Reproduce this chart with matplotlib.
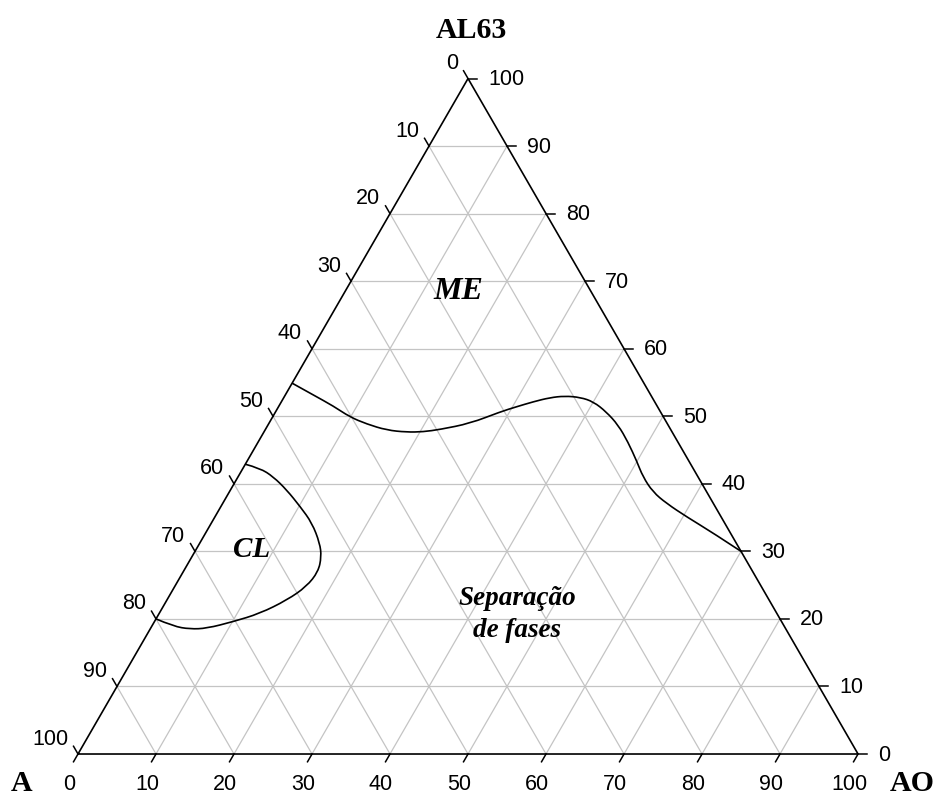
import numpy as np
import matplotlib
matplotlib.use("Agg")
import matplotlib.pyplot as plt
from matplotlib.path import Path
from matplotlib.patches import PathPatch

# ternary axes: AO (bottom), AL63 (right), A (left) -- all in %
ticks = list(range(0, 101, 10))

# boundary ME / separacao (AO, AL63)
me_ao = [0, 3.6, 7.0, 9.9, 12.6, 15.6, 18.3, 20.4, 22.4, 25.8, 28.8, 30.5, 32.3,
         34.1, 35.9, 38.0, 40.0, 42.4, 44.9, 47.4, 50.0, 51.9, 54.3, 56.9, 60.5,
         65.1, 70.0]
me_al = [54.9, 53.15, 51.5, 49.9, 48.85, 47.95, 47.65, 47.7, 48.05, 48.95, 50.65,
         51.4, 52.15, 52.75, 53.0, 52.8, 52.15, 50.65, 48.7, 46.2, 43.3, 41.05,
         38.8, 37.1, 35.1, 32.7, 30.0]

# boundary CL (AO, AL63)
cl_ao = [0, 2.2, 4.5, 7.2, 10.2, 12.9, 15.4, 16.6, 17.3, 16.9, 15.4, 12.9, 10.1,
         7.2, 5.1, 2.8, 0]
cl_al = [42.9, 42.3, 41.05, 39.1, 36.6, 34.2, 31.2, 29.2, 27.0, 24.8, 22.8, 20.8,
         19.6, 18.6, 18.5, 18.9, 20.0]

H = np.sqrt(3) / 2


def tern(ao, al):
    ao = np.asarray(ao, dtype=float)
    al = np.asarray(al, dtype=float)
    return ao + al / 2, al * H


def smooth_curve(ax, ao, al):
    # quadratic bezier path with the read points as control points
    x, y = tern(ao, al)
    pts = list(zip(x, y))
    verts = [pts[0]]
    codes = [Path.MOVETO]
    n = len(pts)
    for i in range(1, n - 1):
        if i < n - 2:
            end = ((pts[i][0] + pts[i + 1][0]) / 2, (pts[i][1] + pts[i + 1][1]) / 2)
        else:
            end = pts[-1]
        verts += [pts[i], end]
        codes += [Path.CURVE3, Path.CURVE3]
    ax.add_patch(PathPatch(Path(verts, codes), fill=False, lw=1.2,
                           edgecolor="black", zorder=4))


fig = plt.figure(figsize=(9.39, 7.98), dpi=100)
ax = fig.add_axes([0, 0, 1, 1])
ax.set_xlim(-10.0, 110.38)
ax.set_ylim(-5.64, 96.67)
ax.axis("off")

grid_c = "#c4c4c4"
for k in ticks[1:-1]:
    # constant AO
    x, y = tern([k, k], [0, 100 - k])
    ax.plot(x, y, color=grid_c, lw=0.9, zorder=1)
    # constant AL63
    x, y = tern([0, 100 - k], [k, k])
    ax.plot(x, y, color=grid_c, lw=0.9, zorder=1)
    # constant A
    x, y = tern([100 - k, 0], [0, 100 - k])
    ax.plot(x, y, color=grid_c, lw=0.9, zorder=1)

# triangle
x, y = tern([0, 100, 0, 0], [0, 0, 100, 0])
ax.plot(x, y, color="black", lw=1.2, zorder=3, solid_joinstyle="miter")

L = 1.15
tfont = dict(family="Liberation Sans", fontsize=15.5)
for k in ticks:
    # bottom axis (AO)
    x0, y0 = tern(k, 0)
    ax.plot([x0, x0 - 0.5 * L], [y0, y0 - H * L], color="black", lw=1.1)
    ax.text(x0 - 1.15, y0 - 3.97, str(k), ha="center", va="center", **tfont)
    # left axis (A)
    x0, y0 = tern(0, 100 - k)
    ax.plot([x0, x0 - 0.5 * L], [y0, y0 + H * L], color="black", lw=1.1)
    ax.text(x0 - 1.28, y0 + 1.92, str(k), ha="right", va="center", **tfont)
    # right axis (AL63)
    x0, y0 = tern(100 - k, k)
    ax.plot([x0, x0 + L], [y0, y0], color="black", lw=1.1)
    ax.text(x0 + 2.56, y0 - 0.13, str(k), ha="left", va="center", **tfont)

smooth_curve(ax, me_ao, me_al)
smooth_curve(ax, cl_ao, cl_al)

vfont = dict(family="Liberation Serif", fontweight="bold", fontsize=21.5)
ax.text(-7.18, -4.75, "A", ha="center", va="baseline", **vfont)
ax.text(107.0, -4.75, "AO", ha="center", va="baseline", **vfont)
ax.text(50.4, 91.8, "AL63", ha="center", va="baseline", **vfont)

rfont = dict(family="Liberation Serif", fontweight="bold", style="italic")
ax.text(48.7, 58.3, "ME", ha="center", va="baseline", fontsize=23, **rfont)
ax.text(22.2, 25.3, "CL", ha="center", va="baseline", fontsize=21, **rfont)
ax.text(56.3, 19.1, "Separação", ha="center", va="baseline", fontsize=19.5, **rfont)
ax.text(56.3, 15.0, "de fases", ha="center", va="baseline", fontsize=19.5, **rfont)

fig.savefig("out.png", dpi=100)
